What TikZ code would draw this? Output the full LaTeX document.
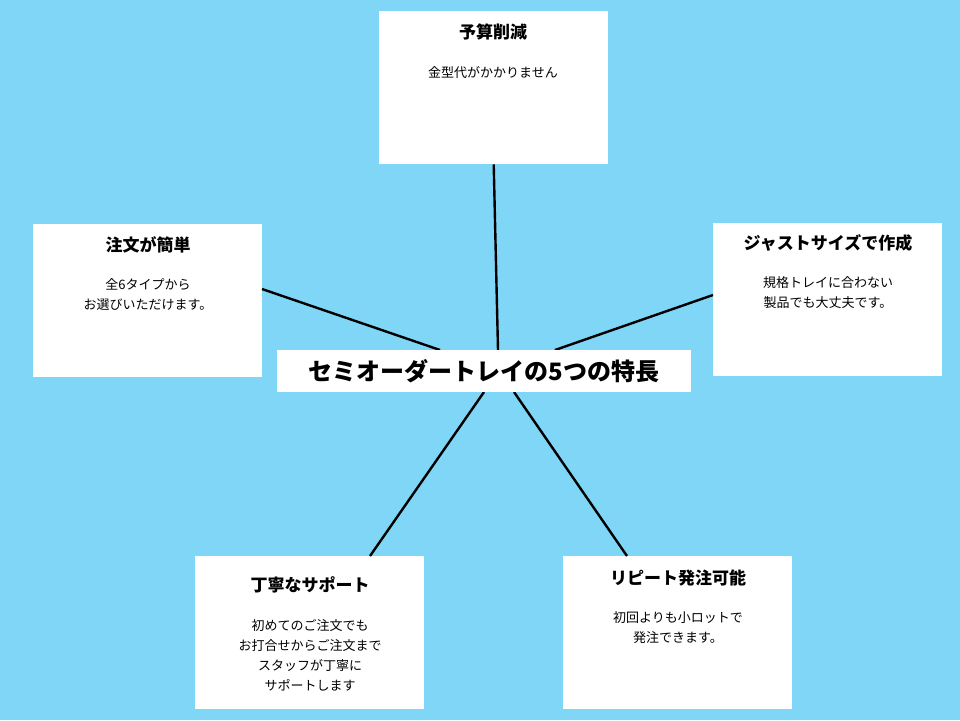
\documentclass[tikz,border=0pt]{standalone}
\usepackage{fontspec}
\setmainfont{Noto Sans CJK JP}
\begin{document}
\begin{tikzpicture}[x=1pt,y=-1pt,
  card/.style={fill=white,draw=none,inner sep=0pt,minimum width=229pt,minimum height=153pt},
  ttl/.style={font=\fontsize{17}{20}\selectfont\bfseries,anchor=center},
  txt/.style={font=\fontsize{13}{20}\selectfont,align=center,anchor=north},
  link/.style={line width=2.4pt,black}]
\fill[fill={rgb,255:red,128;green,214;blue,247}] (0,0) rectangle (960,720);
\node[card,anchor=north west] (top) at (379,11) {};
\node[card,anchor=north west] (lft) at (33,224) {};
\node[card,anchor=north west] (rgt) at (713,223) {};
\node[card,anchor=north west] (bl) at (195,556) {};
\node[card,anchor=north west] (br) at (563,556) {};
\coordinate (c1) at (498,350);
\coordinate (c2) at (440,350);
\coordinate (c3) at (555,350);
\coordinate (c4) at (484,392);
\coordinate (c5) at (514,392);
\coordinate (l1) at (262,289);
\coordinate (r1) at (713,295);
\coordinate (b1) at (370,556);
\coordinate (b2) at (627,556);
\draw[link] (top.south) -- (c1);
\draw[link] (l1) -- (c2);
\draw[link] (r1) -- (c3);
\draw[link] (b1) -- (c4);
\draw[link] (b2) -- (c5);
\node[fill=white,minimum width=414pt,minimum height=42pt,inner sep=0pt,font=\fontsize{24}{28}\selectfont\bfseries] (ctr) at (484,371) {セミオーダートレイの5つの特長};
\node[ttl] (t1) at (493,32) {予算削減};
\node[txt] (x1) at (493,63) {金型代がかかりません};
\node[ttl] (t2) at (148,245) {注文が簡単};
\node[txt] (x2) at (148,275) {全6タイプから\\お選びいただけます。};
\node[ttl] (t3) at (828,243) {ジャストサイズで作成};
\node[txt] (x3) at (828,273) {規格トレイに合わない\\製品でも大丈夫です。};
\node[ttl] (t4) at (310,585) {丁寧なサポート};
\node[txt] (x4) at (310,616) {初めてのご注文でも\\お打合せからご注文まで\\スタッフが丁寧に\\サポートします};
\node[ttl] (t5) at (678,578) {リピート発注可能};
\node[txt] (x5) at (678,608) {初回よりも小ロットで\\発注できます。};
\end{tikzpicture}
\end{document}
